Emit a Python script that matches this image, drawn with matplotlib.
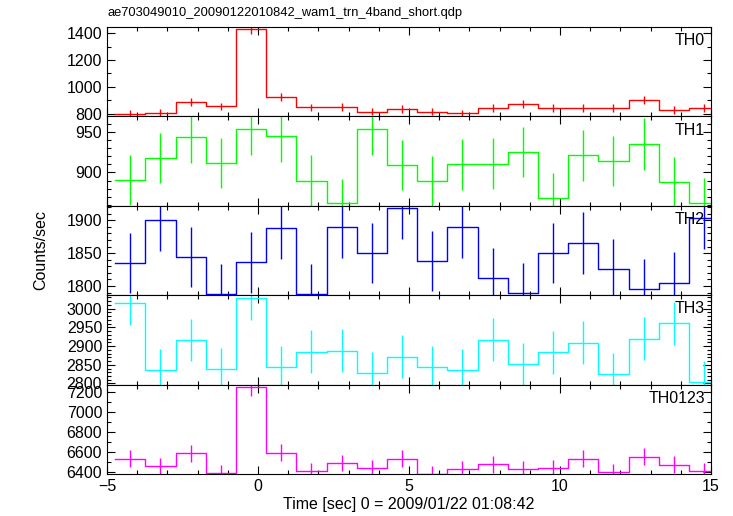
import numpy as np
import matplotlib
matplotlib.use("Agg")
import matplotlib.pyplot as plt
from matplotlib.ticker import MultipleLocator

plt.rcParams['font.family'] = ['Liberation Sans', 'DejaVu Sans']

# bin centres [sec], 1 s bins
time = np.arange(20) - 4.23

names = ['TH0', 'TH1', 'TH2', 'TH3', 'TH0123']
colors = ['#ff0000', '#00ff00', '#0000ff', '#00ffff', '#ff00ff']

th0 = [797, 808, 889, 854, 1430, 924, 847, 852, 815, 837,
       815, 803, 840, 872, 845, 842, 840, 904, 825, 845]
th0_err = [28, 28, 30, 29, 38, 30, 29, 29, 28, 29,
           28, 28, 29, 30, 29, 29, 29, 30, 29, 29]
th1 = [891, 918, 944, 912, 954, 945, 890, 862, 954, 909,
       889, 910, 911, 925, 869, 921, 914, 935, 888, 863]
th1_err = [31, 31, 32, 31, 32, 32, 31, 30, 32, 31,
           31, 31, 31, 31, 30, 31, 31, 32, 31, 30]
th2 = [1835, 1900, 1844, 1788, 1836, 1888, 1788, 1890, 1850, 1919,
       1838, 1889, 1812, 1789, 1850, 1865, 1826, 1795, 1805, 1903]
th2_err = [46, 47, 46, 46, 46, 47, 46, 47, 46, 47,
           46, 47, 46, 46, 46, 47, 46, 46, 46, 47]
th3 = [3014, 2837, 2916, 2839, 3028, 2844, 2885, 2888, 2827, 2872,
       2843, 2835, 2917, 2851, 2883, 2909, 2825, 2920, 2961, 2804]
th3_err = [58, 56, 57, 56, 58, 56, 57, 57, 56, 57,
           56, 56, 57, 56, 57, 57, 56, 57, 58, 56]
th0123 = [6533, 6463, 6591, 6389, 7247, 6594, 6409, 6493, 6442, 6533,
          6385, 6429, 6480, 6432, 6442, 6533, 6399, 6554, 6476, 6412]
th0123_err = [84, 83, 84, 82, 88, 84, 82, 83, 83, 84,
              82, 83, 83, 83, 83, 84, 82, 84, 83, 82]

series = [th0, th1, th2, th3, th0123]
errors = [th0_err, th1_err, th2_err, th3_err, th0123_err]

ylims = [(780, 1447), (859, 969), (1786, 1922), (2797, 3036), (6383, 7271)]
ymajor = [200, 50, 50, 50, 200]
yminor = [100, 10, 10, 10, 100]

fig = plt.figure(figsize=(7.33, 5.16), dpi=100)
left, right, bottom, top = 0.146, 0.970, 0.0814, 0.9477
h = (top - bottom) / 5

edges = np.append(time - 0.5, time[-1] + 0.5)

axes = []
for i in range(5):
    ax = fig.add_axes([left, top - (i + 1) * h, right - left, h])
    vals = series[i]
    ax.step(edges, list(vals) + [vals[-1]], where='post', color=colors[i], lw=1.0)
    ax.errorbar(time, vals, yerr=errors[i], fmt='none', ecolor=colors[i], elinewidth=1.0)
    ax.set_xlim(-5, 15)
    ax.set_ylim(*ylims[i])
    ax.xaxis.set_major_locator(MultipleLocator(5))
    ax.xaxis.set_minor_locator(MultipleLocator(1))
    ax.yaxis.set_major_locator(MultipleLocator(ymajor[i]))
    ax.yaxis.set_minor_locator(MultipleLocator(yminor[i]))
    ax.tick_params(which='both', direction='in', top=True, right=True, labelsize=11.5)
    ax.tick_params(which='major', length=6, width=0.8)
    ax.tick_params(which='minor', length=3, width=0.8)
    if i < 4:
        ax.tick_params(labelbottom=False)
    ax.text(0.99, 0.93, names[i], transform=ax.transAxes, ha='right', va='top', fontsize=11.5)
    axes.append(ax)

axes[-1].set_xlabel('Time [sec] 0 = 2009/01/22 01:08:42', fontsize=11.5, labelpad=2)
fig.text(0.055, (top + bottom) / 2, 'Counts/sec', rotation=90, va='center', ha='center', fontsize=11.5)
fig.text(left, 0.975, 'ae703049010_20090122010842_wam1_trn_4band_short.qdp', ha='left', va='center', fontsize=9.3)

fig.savefig('out.png', dpi=100)
